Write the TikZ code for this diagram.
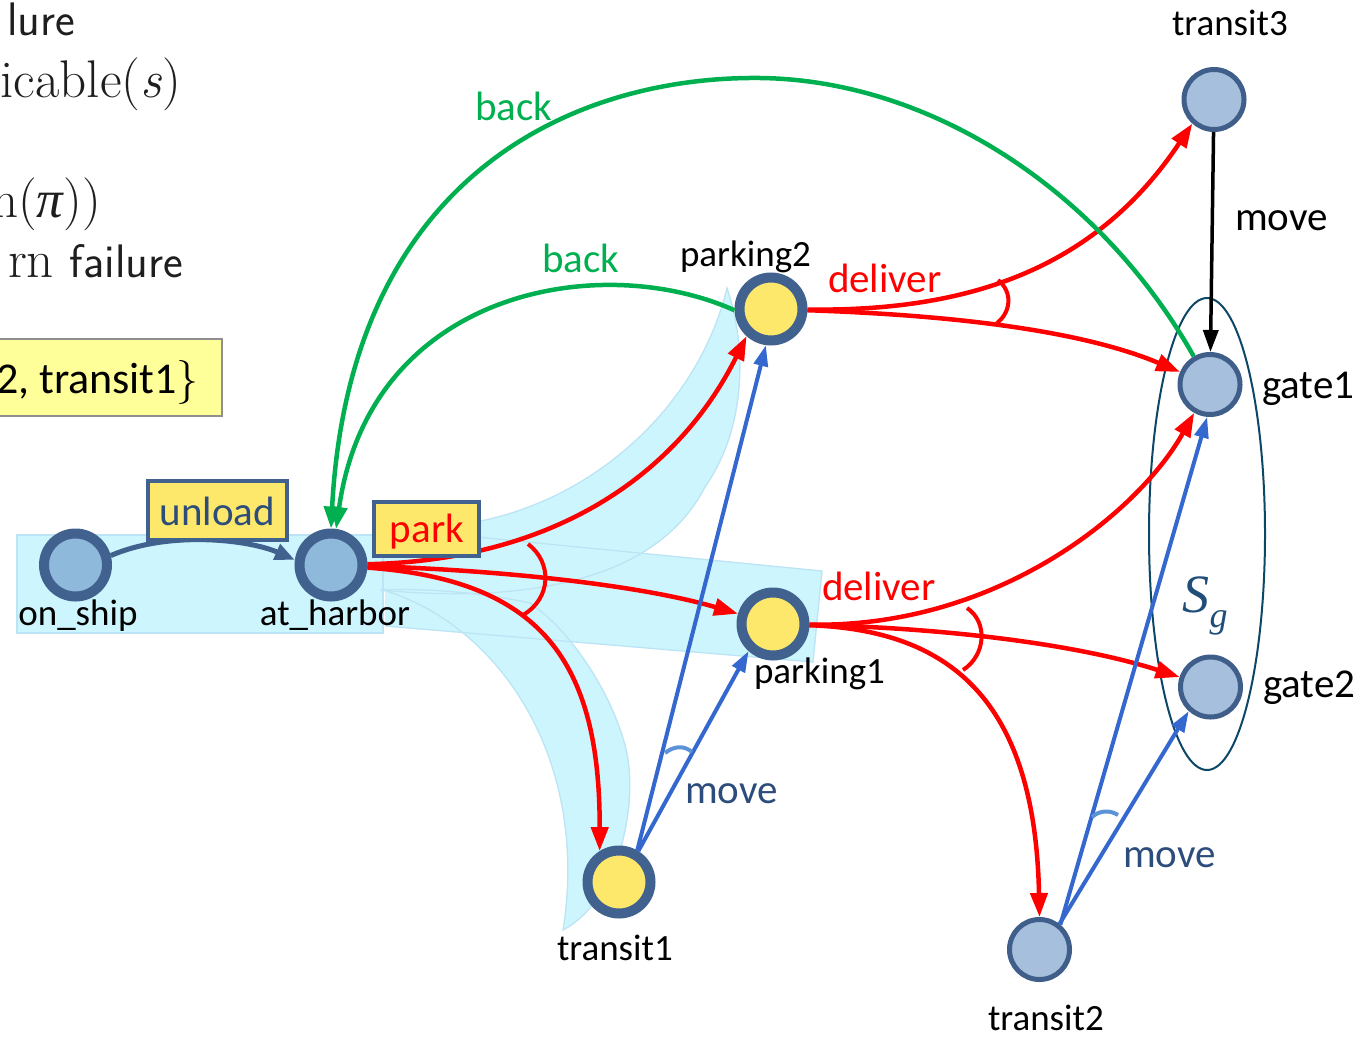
\documentclass[tikz,border=0pt]{standalone}
\usepackage{fontspec}
\newfontfamily\lab{Carlito}
\newfontfamily\serifit{Liberation Serif}
\usetikzlibrary{arrows.meta,shapes.geometric}

\definecolor{ringblue}{HTML}{41628E}
\definecolor{harborfill}{HTML}{8EB9DB}
\definecolor{parkfill}{HTML}{FDE86B}
\definecolor{gatefill}{HTML}{A6BFDD}
\definecolor{gateedge}{HTML}{3F5E8A}
\definecolor{bandfill}{HTML}{CCF5FD}
\definecolor{bandedge}{HTML}{BCE4F4}
\definecolor{delred}{HTML}{FF0000}
\definecolor{backgreen}{HTML}{00B050}
\definecolor{moveblue}{HTML}{3568CF}
\definecolor{andblue}{HTML}{5B93D6}
\definecolor{movetext}{HTML}{2C4C7C}
\definecolor{sgline}{HTML}{0D4768}
\definecolor{sgtext}{HTML}{1F4E79}
\definecolor{algbox}{HTML}{FFFF99}
\definecolor{algedge}{HTML}{8F8F8F}
\definecolor{algtext}{HTML}{1E1E1E}

\newcommand{\sansalg}{\sffamily\fontsize{47}{50}\selectfont}

\tikzset{
  bigstate/.style={circle, draw=ringblue, line width=10pt, minimum size=63pt, inner sep=0pt},
  harborstate/.style={bigstate, fill=harborfill},
  parkstate/.style={bigstate, fill=parkfill},
  gatestate/.style={circle, draw=gateedge, line width=5pt, fill=gatefill, minimum size=60pt, inner sep=0pt},
  band/.style={fill=bandfill},
  bandrim/.style={draw=bandedge, line width=1.3pt},
  redarc/.style={draw=delred, line width=4.5pt, -{Triangle[length=24pt,width=17pt]}},
  redand/.style={draw=delred, line width=4pt},
  bluearc/.style={draw=moveblue, line width=4pt, -{Triangle[length=21pt,width=14pt]}},
  blueand/.style={draw=andblue, line width=4pt},
  greenarc/.style={draw=backgreen, line width=4.5pt, -{Triangle[length=22pt,width=16pt]}},
  blackarc/.style={draw=black, line width=3.5pt, -{Triangle[length=22pt,width=15pt]}},
  unloadarc/.style={draw=ringblue, line width=5pt, -{Triangle[length=20pt,width=16pt]}},
  txt/.style={inner sep=0pt, outer sep=0pt},
  statename/.style={txt, font=\lab\fontsize{37}{40}\selectfont, text=black},
  gatename/.style={txt, font=\lab\fontsize{41}{44}\selectfont, text=black},
  actname/.style={txt, font=\lab\fontsize{41}{44}\selectfont},
  algline/.style={txt, font=\fontsize{53}{56}\selectfont, text=algtext, anchor=base east},
  actbox/.style={draw=ringblue, line width=4pt, fill=parkfill, inner sep=0pt},
}

\begin{document}
\begin{tikzpicture}[x=1pt,y=-1pt]
\useasboundingbox (0,0) rectangle (1372,1036);
\clip (0,0) rectangle (1372,1036);

% ---------- algorithm fragments on the left ----------
\node[algline] (algA) at (75,35) {\sansalg lure};
\node[algline] (algB) at (181,97) {icable(\textit{s})};
\node[algline] (algC) at (101,217) {n({\serifit\itshape π}))};
\node[algline] (algD) at (183,277) {rn {\sansalg failure}};
\draw[draw=algedge, line width=2pt, fill=algbox] (-10,339) rectangle (222,416);
\node[txt, anchor=base east, font=\lab\fontsize{44}{48}\selectfont, text=black] (algE) at (199,393) {2, transit1{\rmfamily\}}};

% ---------- solution bands ----------
\path[band] (17,535) rectangle (383,633);
\path[band] (385,528) -- (822,571) -- (813,662) -- (385,626) -- cycle;
\path[band] (373,523) .. controls (530,550) and (690,440) .. (727,288)
   .. controls (748,350) and (745,430) .. (705,487)
   .. controls (660,575) and (540,605) .. (380,590) -- cycle;
\path[band] (383,590) .. controls (500,625) and (590,760) .. (563,930)
   .. controls (620,900) and (640,800) .. (625,745)
   .. controls (610,690) and (570,630) .. (530,603)
   .. controls (480,592) and (420,588) .. cycle;

\path[bandrim] (17,535) rectangle (383,633);
\path[bandrim] (385,528) -- (822,571) -- (813,662) -- (385,626);
\path[bandrim] (373,523) .. controls (530,550) and (690,440) .. (727,288)
   .. controls (748,350) and (745,430) .. (705,487)
   .. controls (660,575) and (540,605) .. (380,590);
\path[bandrim] (383,590) .. controls (500,625) and (590,760) .. (563,930)
   .. controls (620,900) and (640,800) .. (625,745)
   .. controls (610,690) and (570,630) .. (530,603)
   .. controls (480,592) and (420,588) .. (383,590);

% ---------- goal set ----------
\node[draw=sgline, line width=2pt, ellipse, minimum width=116pt, minimum height=472pt, inner sep=0pt] (goalset) at (1207,534) {};
\node[txt, text=sgtext, font=\serifit\itshape\fontsize{54}{58}\selectfont] (sglabel) at (1205,606) {S\raisebox{-0.28em}{\fontsize{36}{38}\selectfont g}};

% ---------- states ----------
\node[harborstate] (os) at (75.5,565) {};
\node[harborstate] (ah) at (331,565) {};
\node[parkstate] (p2) at (771,309) {};
\node[parkstate] (p1) at (773,624) {};
\node[parkstate] (t1) at (619,882) {};
\node[gatestate] (t3) at (1214,99.5) {};
\node[gatestate] (g1) at (1210,384.5) {};
\node[gatestate] (g2) at (1210.5,687) {};
\node[gatestate] (t2) at (1039.5,949.5) {};

% ---------- unload ----------
\draw[unloadarc] (os.15) .. controls (170,530) and (250,540) .. (ah.172);

% ---------- park (nondeterministic) ----------
\draw[redarc] (ah) .. controls (560,560) and (680,470) .. (p2.228);
\draw[redarc] (ah) .. controls (500,570) and (640,585) .. (p1);
\draw[redarc] (ah) .. controls (540,580) and (600,660) .. (t1.122);
\draw[redand] (528,544) .. controls (552,562) and (552,598) .. (523,615);

% ---------- deliver from parking2 ----------
\draw[redarc] (p2) .. controls (980,312) and (1100,262) .. (t3.228);
\draw[redarc] (p2) .. controls (950,315) and (1080,330) .. (g1);
\draw[redand] (998,280) .. controls (1013,292) and (1011,312) .. (997,323);

% ---------- deliver from parking1 ----------
\draw[redarc] (p1) .. controls (1000,628) and (1140,510) .. (g1);
\draw[redarc] (p1) .. controls (950,628) and (1080,645) .. (g2);
\draw[redarc] (p1) .. controls (950,630) and (1035,700) .. (t2.north);
\draw[redand] (967,608) .. controls (988,622) and (986,655) .. (963,670);

% ---------- move from transit1 / transit2 ----------
\draw[bluearc] (t1.60) -- (p2.262);
\draw[bluearc] (t1.58) -- (p1.228);
\draw[blueand] (665,753) .. controls (675,745) and (685,746) .. (692,752);
\draw[bluearc] (t2.50) -- (g1.265);
\draw[bluearc] (t2.52) -- (g2.228);
\draw[blueand] (1092,817) .. controls (1100,810) and (1110,810) .. (1118,815);

% ---------- move from transit3 ----------
\draw[blackarc] (t3) -- (g1);

% ---------- back ----------
\coordinate (backtop) at (760,78);
\draw[greenarc] (p2.182) .. controls (600,250) and (370,290) .. (ah.82);
\draw[greenarc] (g1.120) .. controls (1100,190) and (930,80) .. (backtop)
   .. controls (580,76) and (350,170) .. (ah.90);

% ---------- action boxes ----------
\node[actbox, minimum width=139pt, minimum height=59pt] (unloadbox) at (217.5,510.5) {};
\node[actname, text=movetext, anchor=base] (unloadtxt) at (217.5,525) {unload};
\node[actbox, minimum width=105pt, minimum height=54pt] (parkbox) at (426.5,529) {};
\node[actname, text=delred, anchor=base] (parktxt) at (427,542) {park};

% ---------- state names ----------
\node[statename, anchor=base] (osname) at (78,625) {on\_ship};
\node[statename, anchor=base] (ahname) at (335,625) {at\_harbor};
\node[statename, anchor=base west] (p2name) at (680,266) {parking2};
\node[statename, anchor=base west] (p1name) at (754,683) {parking1};
\node[statename, anchor=base west] (t1name) at (557,960) {transit1};
\node[statename, anchor=base west] (t3name) at (1172,35) {transit3};
\node[statename, anchor=base west] (t2name) at (988,1030) {transit2};
\node[gatename, anchor=base west] (g1name) at (1262,398) {gate1};
\node[gatename, anchor=base west] (g2name) at (1263,697) {gate2};

% ---------- action labels ----------
\node[actname, text=backgreen, anchor=base west] (backA) at (475,120) {back};
\node[actname, text=backgreen, anchor=base west] (backB) at (542,272) {back};
\node[actname, text=delred, anchor=base west] (delA) at (828,292) {deliver};
\node[actname, text=delred, anchor=base west] (delB) at (822,600) {deliver};
\node[actname, text=black, anchor=base west] (moveA) at (1235,230) {move};
\node[actname, text=movetext, anchor=base west] (moveB) at (685,803) {move};
\node[actname, text=movetext, anchor=base west] (moveC) at (1123,867) {move};
\end{tikzpicture}
\end{document}
